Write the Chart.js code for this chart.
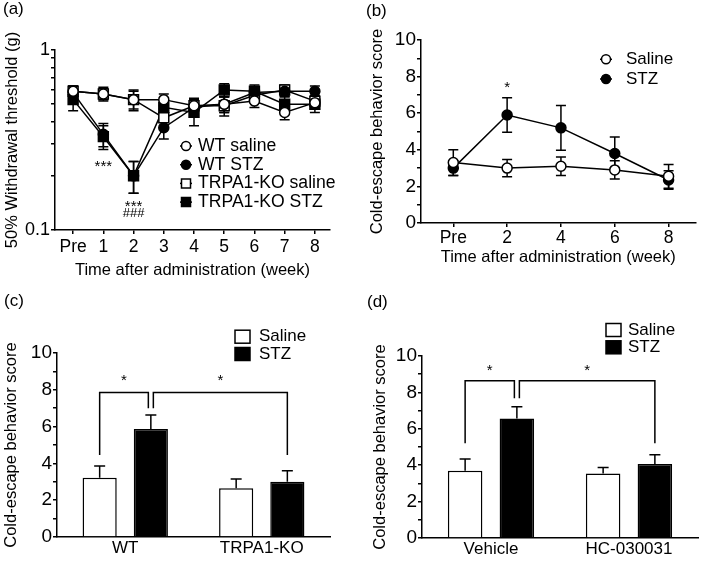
<!DOCTYPE html>
<html>
<head>
<meta charset="utf-8">
<script src="https://cdn.jsdelivr.net/npm/chart.js@4.4.1/dist/chart.umd.min.js"></script>
<style>
  body { margin: 0; background: #fff; }
  #wrap { position: relative; width: 702px; height: 561px; overflow: hidden; font-family: 'Liberation Sans', Arial, sans-serif; }
  canvas { position: absolute; }
  .tag { position: absolute; font-size: 17px; line-height: 17px; color: #000; }
</style>
</head>
<body>
<div id="wrap">
  <canvas id="chartA" width="351" height="280" style="left:0;top:0"></canvas>
  <canvas id="chartB" width="351" height="280" style="left:351px;top:0"></canvas>
  <canvas id="chartC" width="351" height="281" style="left:0;top:280px"></canvas>
  <canvas id="chartD" width="351" height="281" style="left:351px;top:280px"></canvas>
  <div class="tag" style="left:3px;top:0">(a)</div>
  <div class="tag" style="left:366px;top:2px">(b)</div>
  <div class="tag" style="left:4px;top:292px">(c)</div>
  <div class="tag" style="left:367px;top:293px">(d)</div>
</div>
<script>
const FONT = "'Liberation Sans', Arial, Helvetica, sans-serif";
Chart.defaults.font.family = FONT;
Chart.defaults.font.size = 17;
Chart.defaults.color = '#000';

// (a) mechanical threshold, log axis
const weeks = [0, 1, 2, 3, 4, 5, 6, 7, 8];
const weekLabels = ['Pre', '1', '2', '3', '4', '5', '6', '7', '8'];
const wtSaline = [0.59, 0.57, 0.53, 0.53, 0.49, 0.50, 0.52, 0.45, 0.51];
const wtSalineErr = [0.04, 0.04, 0.07, 0.04, 0.04, 0.05, 0.04, 0.04, 0.04];
const wtStz = [0.58, 0.34, 0.20, 0.37, 0.48, 0.50, 0.58, 0.59, 0.59];
const wtStzErr = [0.04, 0.05, 0.04, 0.05, 0.04, 0.05, 0.04, 0.04, 0.04];
const koSaline = [0.59, 0.57, 0.53, 0.42, 0.49, 0.49, 0.56, 0.60, 0.52];
const koSalineErr = [0.04, 0.05, 0.06, 0.05, 0.05, 0.06, 0.05, 0.04, 0.04];
const koStz = [0.53, 0.33, 0.20, 0.48, 0.45, 0.60, 0.59, 0.50, 0.50];
const koStzErr = [0.07, 0.05, 0.04, 0.05, 0.07, 0.05, 0.05, 0.05, 0.05];
const thresholdTicks = [0.1, 0.2, 0.3, 0.4, 0.5, 0.6, 0.7, 0.8, 0.9, 1];
const markWeeksA = [1, 2, 2];
const markLevelsA = [0.236, 0.142, 0.126];
const markTextsA = ['***', '***', '###'];

// (b) cold escape over time
const escapeWeeks = [0, 2, 4, 6, 8];
const escapeLabels = ['Pre', '2', '4', '6', '8'];
const salineScore = [3.3, 3.0, 3.1, 2.9, 2.55];
const salineScoreErr = [0.7, 0.47, 0.5, 0.5, 0.65];
const stzScore = [3.0, 5.9, 5.2, 3.8, 2.35];
const stzScoreErr = [0.4, 0.94, 1.22, 0.9, 0.5];
const markWeeksB = [2];
const markLevelsB = [7.63];
const markTextsB = ['*'];
const scoreTicks = [0, 1, 2, 3, 4, 5, 6, 7, 8, 9, 10];

// (c) genotype
const genotypes = ['WT', 'TRPA1-KO'];
const genoSaline = [3.22, 2.65];
const genoSalineErr = [0.64, 0.5];
const genoStz = [5.87, 3.0];
const genoStzErr = [0.76, 0.6];
const genoBracket = [4.46, 7.86, 7.0]; // outer leg end, bar level, inner leg end
const genoStars = [8.7, 8.7];

// (d) antagonist
const treatments = ['Vehicle', 'HC-030031'];
const treatSaline = [3.7, 3.55];
const treatSalineErr = [0.64, 0.32];
const treatStz = [6.57, 4.07];
const treatStzErr = [0.64, 0.5];
const treatBracket = [5.2, 8.64, 7.68];
const treatStars = [9.45, 9.45];

const axisLine = { display: true, color: '#000', width: 1.5 };
function tickGrid(len) {
  return { display: true, drawOnChartArea: false, drawTicks: true, tickLength: len, color: '#000', tickColor: '#000', lineWidth: 1.5 };
}

const errorBars = {
  id: 'errorBars',
  beforeDatasetsDraw(chart) {
    const ctx = chart.ctx;
    const yScale = chart.scales.y;
    ctx.save();
    ctx.strokeStyle = '#000';
    ctx.lineWidth = 1.5;
    chart.data.datasets.forEach((ds, i) => {
      if (!ds.errors) return;
      chart.getDatasetMeta(i).data.forEach((el, j) => {
        const raw = ds.data[j];
        const v = typeof raw === 'object' ? raw.y : raw;
        const cap = ds.capHalf || 5;
        const top = yScale.getPixelForValue(v + ds.errors[j]);
        const bottom = ds.upOnly ? el.y : yScale.getPixelForValue(v - ds.errors[j]);
        ctx.beginPath();
        ctx.moveTo(el.x, top);
        ctx.lineTo(el.x, bottom);
        ctx.moveTo(el.x - cap, top);
        ctx.lineTo(el.x + cap, top);
        if (!ds.upOnly) {
          ctx.moveTo(el.x - cap, bottom);
          ctx.lineTo(el.x + cap, bottom);
        }
        ctx.stroke();
      });
    });
    ctx.restore();
  }
};

function drawMarker(ctx, style, x, y, r, fill) {
  ctx.beginPath();
  if (style === 'rect') ctx.rect(x - r, y - r, 2 * r, 2 * r);
  else ctx.arc(x, y, r, 0, Math.PI * 2);
  ctx.fillStyle = fill;
  ctx.fill();
  ctx.strokeStyle = '#000';
  ctx.lineWidth = 1.5;
  ctx.stroke();
}

function lineKey(x, y, gap, textX, size) {
  return {
    id: 'lineKey',
    afterDraw(chart) {
      const ctx = chart.ctx;
      ctx.save();
      ctx.font = size + 'px ' + FONT;
      ctx.textBaseline = 'middle';
      chart.data.datasets.forEach((ds, i) => {
        const cy = y + i * gap;
        ctx.strokeStyle = '#000';
        ctx.lineWidth = 1.5;
        ctx.beginPath();
        ctx.moveTo(x - 6, cy);
        ctx.lineTo(x + 6, cy);
        ctx.stroke();
        drawMarker(ctx, ds.pointStyle, x, cy, 4.5, ds.pointBackgroundColor);
        ctx.fillStyle = '#000';
        ctx.fillText(ds.label, textX, cy);
      });
      ctx.restore();
    }
  };
}

function barKey(x, y, gap, textX) {
  return {
    id: 'barKey',
    afterDraw(chart) {
      const ctx = chart.ctx;
      ctx.save();
      ctx.font = '17px ' + FONT;
      ctx.textBaseline = 'middle';
      chart.data.datasets.forEach((ds, i) => {
        const cy = y + i * gap;
        ctx.fillStyle = ds.backgroundColor;
        ctx.fillRect(x, cy - 6.5, 15, 13);
        ctx.strokeStyle = '#000';
        ctx.lineWidth = 1.5;
        ctx.strokeRect(x, cy - 6.5, 15, 13);
        ctx.fillStyle = '#000';
        ctx.fillText(ds.label, textX, cy);
      });
      ctx.restore();
    }
  };
}

function starMarks(xs, levels, texts) {
  return {
    id: 'starMarks',
    afterDatasetsDraw(chart) {
      const { ctx, scales } = chart;
      ctx.save();
      ctx.fillStyle = '#000';
      ctx.textAlign = 'center';
      ctx.textBaseline = 'alphabetic';
      xs.forEach((xv, i) => {
        const hash = texts[i][0] === '#';
        const fs = hash ? 13 : 15;
        ctx.font = fs + 'px ' + FONT;
        const lift = hash ? 0.36 : 0.57;
        ctx.fillText(texts[i], scales.x.getPixelForValue(xv), scales.y.getPixelForValue(levels[i]) + lift * fs);
      });
      ctx.restore();
    }
  };
}

function brackets(levels, stars) {
  return {
    id: 'brackets',
    afterDatasetsDraw(chart) {
      const ctx = chart.ctx;
      const y = chart.scales.y;
      const sal = chart.getDatasetMeta(0).data;
      const stz = chart.getDatasetMeta(1).data;
      const [outer, top, inner] = levels.map(v => y.getPixelForValue(v));
      const a = sal[0].x, b = stz[0].x - 2.5, c = stz[0].x + 2.5, d = stz[1].x;
      ctx.save();
      ctx.strokeStyle = '#000';
      ctx.lineWidth = 1.5;
      ctx.beginPath();
      ctx.moveTo(a, outer); ctx.lineTo(a, top); ctx.lineTo(b, top); ctx.lineTo(b, inner);
      ctx.moveTo(c, inner); ctx.lineTo(c, top); ctx.lineTo(d, top); ctx.lineTo(d, outer);
      ctx.stroke();
      ctx.fillStyle = '#000';
      ctx.textAlign = 'center';
      ctx.font = '15px ' + FONT;
      ctx.fillText('*', (a + b) / 2, y.getPixelForValue(stars[0]) + 0.57 * 15);
      ctx.fillText('*', (c + d) / 2, y.getPixelForValue(stars[1]) + 0.57 * 15);
      ctx.restore();
    }
  };
}

function lineSeries(label, xs, ys, errs, style, fill, r) {
  return {
    label,
    data: xs.map((x, i) => ({ x, y: ys[i] })),
    errors: errs,
    capHalf: 5,
    borderColor: '#000',
    borderWidth: 1.5,
    pointStyle: style,
    pointRadius: r,
    pointBackgroundColor: fill,
    pointBorderColor: '#000',
    pointBorderWidth: 1.5,
    tension: 0
  };
}

function scoreAxis(leftWidth, titlePad) {
  return {
    type: 'linear', min: 0, max: 10,
    afterBuildTicks: s => { s.ticks = scoreTicks.map(v => ({ value: v })); },
    ticks: { callback: v => (v % 2 === 0 ? v : ''), padding: 1, font: { size: 19 }, autoSkip: false },
    grid: tickGrid(4),
    border: axisLine,
    title: { display: true, text: 'Cold-escape behavior score', font: { size: 16.5 }, padding: { top: titlePad, bottom: 0 } },
    afterFit: s => { s.width = leftWidth; }
  };
}

const baseOptions = {
  responsive: false,
  animation: false,
  devicePixelRatio: 1,
  plugins: { legend: { display: false }, tooltip: { enabled: false } }
};

new Chart(document.getElementById('chartA'), {
  type: 'line',
  data: {
    datasets: [
      lineSeries('WT saline', weeks, wtSaline, wtSalineErr, 'circle', '#fff', 5),
      lineSeries('WT STZ', weeks, wtStz, wtStzErr, 'circle', '#000', 5),
      lineSeries('TRPA1-KO saline', weeks, koSaline, koSalineErr, 'rect', '#fff', 7),
      lineSeries('TRPA1-KO STZ', weeks, koStz, koStzErr, 'rect', '#000', 7)
    ]
  },
  options: {
    ...baseOptions,
    layout: { padding: { top: 50, right: 21, left: 0, bottom: 0 } },
    scales: {
      x: {
        type: 'linear', min: -0.6, max: 8.5,
        afterBuildTicks: s => { s.ticks = weeks.map(v => ({ value: v })); },
        ticks: { callback: v => weekLabels[v], padding: 3, autoSkip: false, maxRotation: 0, font: { size: 17.5 } },
        grid: tickGrid(4),
        border: axisLine,
        title: { display: true, text: 'Time after administration (week)', font: { size: 16.5 }, padding: { top: 0, bottom: 0 } },
        afterFit: s => { s.height = 50; }
      },
      y: {
        type: 'logarithmic', min: 0.1, max: 1,
        afterBuildTicks: s => { s.ticks = thresholdTicks.map(v => ({ value: v })); },
        ticks: { callback: v => (v === 1 ? '1' : v === 0.1 ? '0.1' : ''), padding: 1, autoSkip: false, font: { size: 18 } },
        grid: tickGrid(4),
        border: axisLine,
        title: { display: true, text: '50% Withdrawal threshold (g)', font: { size: 16.5 }, padding: { top: 3, bottom: 0 } },
        afterFit: s => { s.width = 55; }
      }
    }
  },
  plugins: [errorBars, starMarks(markWeeksA, markLevelsA, markTextsA), lineKey(186, 146, 18.7, 198, 17.6)]
});

new Chart(document.getElementById('chartB'), {
  type: 'line',
  data: {
    datasets: [
      lineSeries('Saline', escapeWeeks, salineScore, salineScoreErr, 'circle', '#fff', 5),
      lineSeries('STZ', escapeWeeks, stzScore, stzScoreErr, 'circle', '#000', 5)
    ]
  },
  options: {
    ...baseOptions,
    layout: { padding: { top: 40, right: 4, left: 0, bottom: 0 } },
    scales: {
      x: {
        type: 'linear', min: -1.2, max: 9,
        afterBuildTicks: s => { s.ticks = escapeWeeks.map(v => ({ value: v })); },
        ticks: { callback: v => escapeLabels[escapeWeeks.indexOf(v)], padding: 1, autoSkip: false, maxRotation: 0, font: { size: 17.5 } },
        grid: tickGrid(4),
        border: axisLine,
        title: { display: true, text: 'Time after administration (week)', font: { size: 16.5 }, padding: { top: 0, bottom: 13 } },
        afterFit: s => { s.height = 57; }
      },
      y: scoreAxis(70, 17)
    }
  },
  plugins: [errorBars, starMarks(markWeeksB, markLevelsB, markTextsB), lineKey(255, 59.3, 19.7, 275, 17)]
});

function barChart(id, labels, sal, salErr, stz, stzErr, bracket, stars, pad, leftW, titlePad, xH, key) {
  return new Chart(document.getElementById(id), {
    type: 'bar',
    data: {
      labels,
      datasets: [
        { label: 'Saline', data: sal, errors: salErr, upOnly: true, capHalf: 5.5, backgroundColor: '#fff', borderColor: '#000', borderWidth: 1.5 },
        { label: 'STZ', data: stz, errors: stzErr, upOnly: true, capHalf: 5.5, backgroundColor: '#000', borderColor: '#000', borderWidth: 1.5 }
      ]
    },
    options: {
      ...baseOptions,
      datasets: { bar: { categoryPercentage: 0.75, barPercentage: 0.667 } },
      layout: { padding: pad },
      scales: {
        x: {
          type: 'category',
          grid: { display: false, drawTicks: false },
          border: axisLine,
          ticks: { padding: 1, font: { size: 17 } },
          afterFit: s => { s.height = xH; }
        },
        y: scoreAxis(leftW, titlePad)
      }
    },
    plugins: [errorBars, brackets(bracket, stars), key]
  });
}

barChart('chartC', genotypes, genoSaline, genoSalineErr, genoStz, genoStzErr, genoBracket, genoStars,
  { top: 73, right: 21, left: 0, bottom: 0 }, 57, 2, 24, barKey(235, 56.7, 17.3, 259));
barChart('chartD', treatments, treatSaline, treatSalineErr, treatStz, treatStzErr, treatBracket, treatStars,
  { top: 76, right: 4, left: 0, bottom: 0 }, 71, 20, 23, barKey(255, 50, 17.3, 277));
</script>
</body>
</html>
